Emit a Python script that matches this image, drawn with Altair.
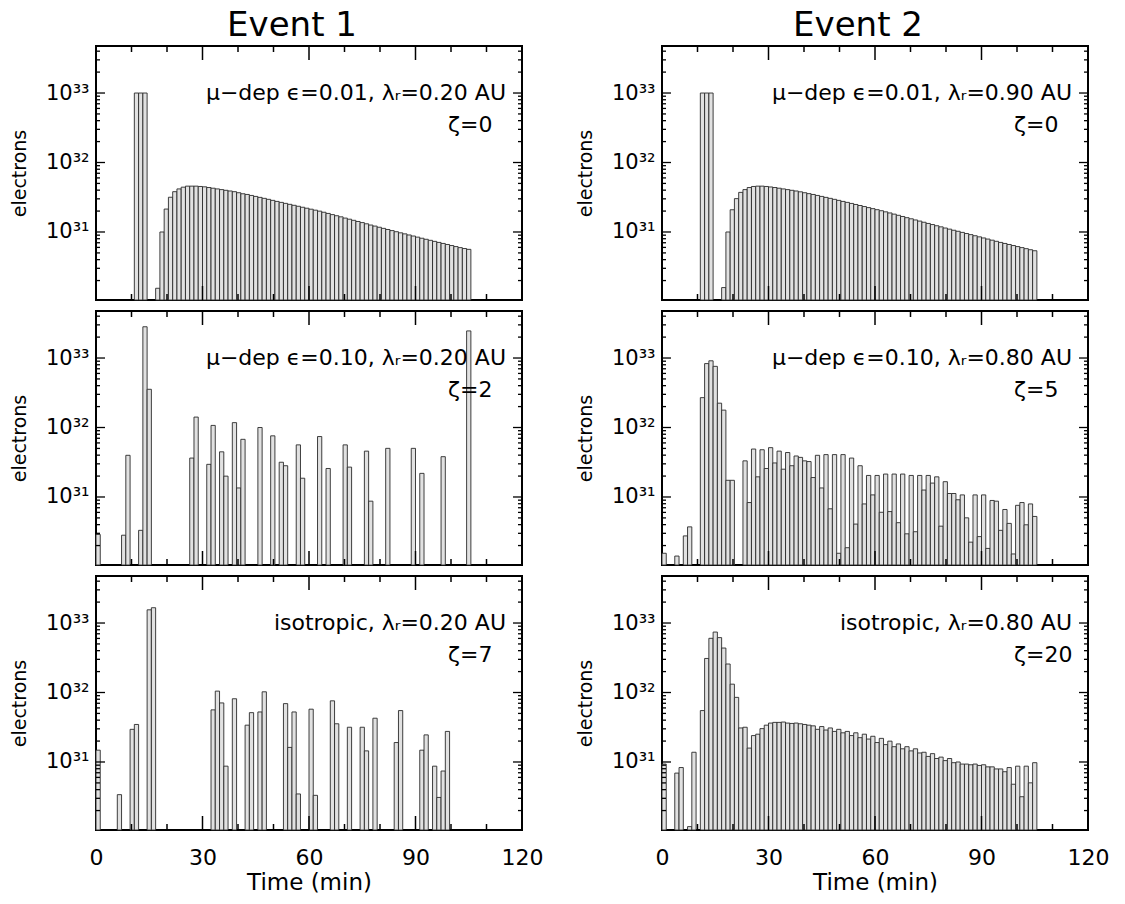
import altair as alt
import pandas as pd

FONT = "DejaVu Sans"
BIN_MIN = 1.2          # width of one time bin (min)
W, H = 426, 254        # plot area of one panel
Y_LO, Y_HI = 1.05e30, 4.75e33

# ---------------- data: bin index (1.2 min bins) and log10(electrons) ----------------
# Event 1, top : mu-dep eps=0.01, lambda_r=0.20 AU, zeta=0
e1a_bins = [9, 10, 11] + list(range(14, 88))
e1a_logv = [33.0, 33.0, 33.0,
            30.19, 31.00, 31.33, 31.50, 31.58, 31.62, 31.645, 31.66, 31.66, 31.66,
            31.655, 31.65, 31.64, 31.63, 31.62, 31.61, 31.60, 31.59, 31.58, 31.565,
            31.55, 31.54, 31.526, 31.512, 31.498, 31.484, 31.47, 31.455, 31.44, 31.426,
            31.412, 31.398, 31.384, 31.37, 31.356, 31.342, 31.328, 31.314, 31.30, 31.284,
            31.267, 31.25, 31.234, 31.218, 31.20, 31.184, 31.168, 31.151, 31.135, 31.118,
            31.10, 31.085, 31.068, 31.052, 31.036, 31.02, 31.004, 30.988, 30.973, 30.957,
            30.942, 30.926, 30.91, 30.895, 30.88, 30.865, 30.85, 30.835, 30.82, 30.805,
            30.79, 30.775, 30.762, 30.75]

# Event 1, middle : mu-dep eps=0.10, lambda_r=0.20 AU, zeta=2
e1b_bins = [0, 6, 7, 10, 11, 12, 22, 23, 26, 27, 29, 30, 32, 33, 34, 38, 41, 43, 44,
            47, 48, 52, 54, 58, 59, 63, 64, 68, 74, 76, 81, 87]
e1b_logv = [30.46, 30.45, 31.60, 30.52, 33.45, 32.55, 31.56, 32.15, 31.47, 32.03, 31.65,
            31.30, 32.07, 31.13, 31.83, 32.00, 31.88, 31.50, 31.45, 31.75, 31.27, 31.87,
            31.41, 31.75, 31.43, 31.66, 30.94, 31.70, 31.70, 31.34, 31.58, 33.39]

# Event 1, bottom : isotropic, lambda_r=0.20 AU, zeta=7
e1c_bins = [0, 5, 8, 9, 12, 13, 27, 28, 29, 30, 32, 35, 36, 38, 39, 44, 45, 46, 47, 50,
            51, 55, 56, 59, 62, 63, 65, 70, 71, 76, 77, 79, 80, 81, 82]
e1c_logv = [31.17, 30.53, 31.47, 31.54, 33.19, 33.22, 31.75, 32.02, 31.85, 30.94, 31.91,
            31.53, 31.71, 31.72, 32.01, 31.84, 31.21, 31.72, 30.54, 31.76, 30.52, 31.88,
            31.55, 31.50, 31.50, 31.16, 31.63, 31.28, 31.74, 31.17, 31.39, 30.94, 30.49,
            30.87, 31.44]

# Event 2, top : mu-dep eps=0.01, lambda_r=0.90 AU, zeta=0
e2a_bins = [9, 10, 11] + list(range(14, 88))
e2a_logv = [33.0, 33.0, 33.0,
            30.20, 31.00, 31.32, 31.48, 31.57, 31.61, 31.64, 31.655, 31.66, 31.66,
            31.655, 31.648, 31.64, 31.63, 31.62, 31.61, 31.60, 31.59, 31.578, 31.565,
            31.552, 31.54, 31.526, 31.512, 31.498, 31.484, 31.47, 31.455, 31.44, 31.426,
            31.411, 31.396, 31.381, 31.366, 31.351, 31.336, 31.321, 31.306, 31.29, 31.274,
            31.257, 31.24, 31.223, 31.206, 31.19, 31.173, 31.157, 31.14, 31.123, 31.107,
            31.09, 31.074, 31.057, 31.041, 31.025, 31.01, 30.994, 30.978, 30.962, 30.946,
            30.93, 30.914, 30.898, 30.882, 30.866, 30.85, 30.835, 30.82, 30.805, 30.79,
            30.775, 30.76, 30.745, 30.73]

# Event 2, middle : mu-dep eps=0.10, lambda_r=0.80 AU, zeta=5
e2b_bins = [0, 3, 5, 6] + list(range(9, 17)) + list(range(19, 88))
e2b_logv = [30.19, 30.15, 30.44, 30.57,
            32.43, 32.92, 32.96, 32.88, 32.35, 32.25, 31.24, 31.24,
            31.52, 30.92, 31.69, 31.29, 31.68, 31.41, 31.71, 31.49, 31.66, 31.40,
            31.64, 31.45, 31.59, 31.57, 31.52, 31.51, 31.28, 31.60, 31.13, 31.61,
            30.83, 31.61, 30.19, 31.61, 30.27, 31.56, 30.61, 31.45, 30.90, 31.31,
            31.03, 31.31, 30.78, 31.33, 30.79, 31.33, 30.63, 31.33, 30.47, 31.31,
            30.50, 31.31, 31.10, 31.31, 31.20, 31.29, 30.58, 31.22, 31.05, 31.05,
            30.96, 31.03, 30.70, 30.35, 31.03, 30.43, 31.03, 30.26, 30.95, 30.94,
            30.52, 30.82, 30.62, 30.18, 30.88, 30.92, 30.60, 30.90, 30.72]

# Event 2, bottom : isotropic, lambda_r=0.80 AU, zeta=20
e2c_bins = [0, 3, 4, 6, 7] + list(range(9, 88))
e2c_logv = [30.97, 30.84, 30.92, 30.07, 31.14,
            31.74, 32.49, 32.78, 32.87, 32.79, 32.64, 32.41, 32.12, 31.93, 31.49,
            31.50, 31.20, 31.38, 31.40, 31.48, 31.53, 31.56, 31.57, 31.57, 31.575,
            31.56, 31.555, 31.56, 31.55, 31.54, 31.53, 31.52, 31.47, 31.51, 31.46,
            31.49, 31.44, 31.47, 31.42, 31.44, 31.38, 31.42, 31.35, 31.40, 31.33,
            31.37, 31.28, 31.34, 31.25, 31.30, 31.22, 31.26, 31.19, 31.22, 31.16,
            31.19, 31.13, 31.14, 31.08, 31.12, 31.05, 31.07, 31.02, 31.05, 30.99,
            31.00, 30.97, 30.97, 30.96, 30.97, 30.95, 30.96, 30.93, 30.93, 30.90,
            30.90, 30.86, 30.92, 30.68, 30.94, 30.50, 30.94, 30.70, 30.99]

line1_texts = ["\u03bc\u2212dep \u03f5=0.01, \u03bb\u1d63=0.20 AU",
               "\u03bc\u2212dep \u03f5=0.10, \u03bb\u1d63=0.20 AU",
               "isotropic, \u03bb\u1d63=0.20 AU",
               "\u03bc\u2212dep \u03f5=0.01, \u03bb\u1d63=0.90 AU",
               "\u03bc\u2212dep \u03f5=0.10, \u03bb\u1d63=0.80 AU",
               "isotropic, \u03bb\u1d63=0.80 AU"]
zeta_texts = ["\u03b6=0", "\u03b6=2", "\u03b6=7", "\u03b6=0", "\u03b6=5", "\u03b6=20"]
event_titles = ["Event 1", "Event 2"]

x_label_values = [0, 30, 60, 90, 120]
x_minor_ticks = [10, 20, 40, 50, 70, 80, 100, 110]
x_major_ticks = [30, 60, 90]
y_label_values = [1e31, 1e32, 1e33]
y_minor_ticks = [m * 10.0 ** e for e in (30, 31, 32, 33) for m in range(2, 10)
                 if Y_LO < m * 10.0 ** e < Y_HI]

# ------------------------------------------------------------------------------------
def bar_frame(bins, logv):
    return pd.DataFrame({
        "t0": [b * BIN_MIN for b in bins],
        "t1": [(b + 1) * BIN_MIN for b in bins],
        "v": [10.0 ** x for x in logv],
    })


xscale = alt.Scale(domain=[0, 120], nice=False, zero=False)
yscale = alt.Scale(type="log", domain=[Y_LO, Y_HI], nice=False)

yaxis = alt.Axis(
    values=y_label_values,
    labelExpr="datum.value > 5e32 ? '10\u00b3\u00b3' : (datum.value > 5e31 ? '10\u00b3\u00b2' : '10\u00b3\u00b9')",
    ticks=False, domain=False, grid=False, tickSize=0,
    labelPadding=7, labelFontSize=21, labelFont=FONT, labelColor="black",
    title="electrons", titleFontSize=19, titleFont=FONT, titleFontWeight="normal",
    titleColor="black", titlePadding=16,
)
xaxis_bottom = alt.Axis(
    values=x_label_values, ticks=False, domain=False, grid=False, tickSize=0,
    labelFlush=False, labelPadding=17, labelFontSize=22, labelFont=FONT, labelColor="black",
    title="Time (min)", titleFontSize=23, titleFont=FONT, titleFontWeight="normal",
    titleColor="black", titlePadding=3,
)


def panel(bins, logv, text1, text2, bottom, title=None):
    xaxis = xaxis_bottom if bottom else None
    X = alt.X("t0:Q", scale=xscale, axis=xaxis)
    Y = alt.Y("v:Q", scale=yscale, axis=yaxis)

    bars = alt.Chart(bar_frame(bins, logv)).mark_rect(
        fill="#e1e1e1", stroke="#2a2a2a", strokeWidth=0.9
    ).encode(x=X, x2="t1:Q", y=Y, y2=alt.value(H))

    ymin_df = pd.DataFrame({"v": y_minor_ticks})
    ymaj_df = pd.DataFrame({"v": y_label_values})
    xmin_df = pd.DataFrame({"t0": x_minor_ticks})
    xmaj_df = pd.DataFrame({"t0": x_major_ticks})

    def yt(df, x_a, x_b):
        return alt.Chart(df).mark_rule(color="black", strokeWidth=1.3).encode(
            y=Y, x=alt.value(x_a), x2=alt.value(x_b))

    def xt(df, y_a, y_b):
        return alt.Chart(df).mark_rule(color="black", strokeWidth=1.5).encode(
            x=X, y=alt.value(y_a), y2=alt.value(y_b))

    ticks = [
        yt(ymin_df, 0, 4), yt(ymin_df, W, W - 4),
        yt(ymaj_df, 0, 9), yt(ymaj_df, W, W - 9),
        xt(xmin_df, H, H - 6), xt(xmin_df, 0, 6),
        xt(xmaj_df, H, H - 14), xt(xmaj_df, 0, 14),
    ]

    t1 = alt.Chart(pd.DataFrame({"label": [text1]})).mark_text(
        align="right", baseline="middle", font=FONT, fontSize=22, color="black"
    ).encode(x=alt.value(410), y=alt.value(47), text="label:N")
    t2 = alt.Chart(pd.DataFrame({"label": [text2]})).mark_text(
        align="left", baseline="middle", font=FONT, fontSize=22, color="black"
    ).encode(x=alt.value(352), y=alt.value(79), text="label:N")

    props = dict(width=W, height=H)
    if title is not None:
        props["title"] = alt.Title(title, fontSize=34, font=FONT, fontWeight="normal",
                                   anchor="middle", frame="group", offset=2, dx=-17,
                                   color="black")
    return alt.layer(bars, *ticks, t1, t2).properties(**props)


col1 = alt.vconcat(
    panel(e1a_bins, e1a_logv, line1_texts[0], zeta_texts[0], False, event_titles[0]),
    panel(e1b_bins, e1b_logv, line1_texts[1], zeta_texts[1], False),
    panel(e1c_bins, e1c_logv, line1_texts[2], zeta_texts[2], True),
    spacing=7,
)
col2 = alt.vconcat(
    panel(e2a_bins, e2a_logv, line1_texts[3], zeta_texts[3], False, event_titles[1]),
    panel(e2b_bins, e2b_logv, line1_texts[4], zeta_texts[4], False),
    panel(e2c_bins, e2c_logv, line1_texts[5], zeta_texts[5], True),
    spacing=7,
)

chart = alt.hconcat(col1, col2, spacing=31).properties(
    padding={"left": 9, "top": 8, "right": 5, "bottom": 2}
).configure(
    font=FONT, background="white",
    view=alt.ViewConfig(stroke="black", strokeWidth=2),
)

chart.save("out.html", embed_options={"renderer": "svg", "actions": False})
